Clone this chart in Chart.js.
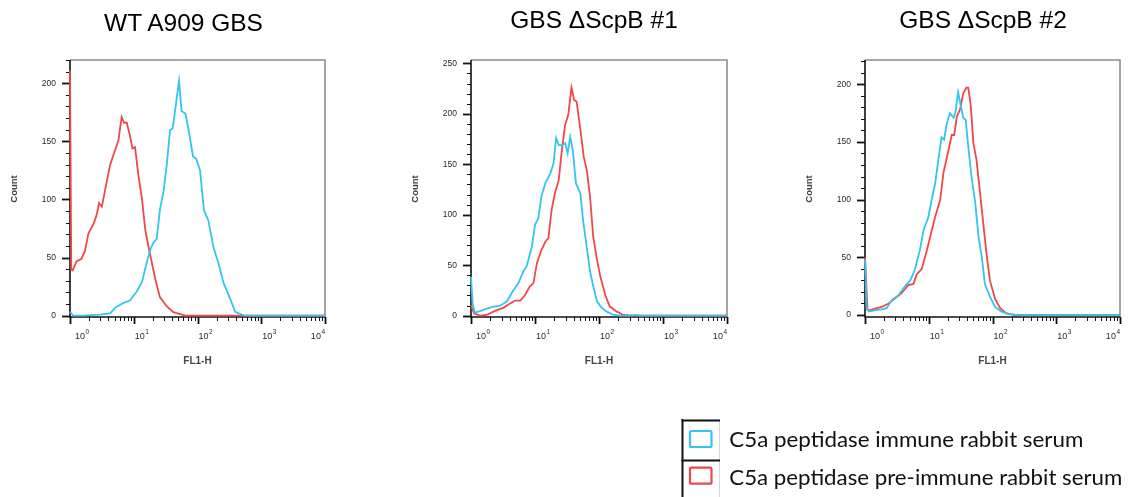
<!DOCTYPE html>
<html><head><meta charset="utf-8">
<script src="https://cdn.jsdelivr.net/npm/chart.js@4.4.0/dist/chart.umd.min.js"></script>
<style>
html,body{margin:0;padding:0;background:#fff;width:1133px;height:497px;overflow:hidden;}
canvas{position:absolute;left:0;top:0;}
svg{position:absolute;left:0;top:0;}
</style></head><body>
<canvas id="c1" width="1133" height="497"></canvas>
<canvas id="c2" width="1133" height="497"></canvas>
<canvas id="c3" width="1133" height="497"></canvas>
<svg id="ov" width="1133" height="497" xmlns="http://www.w3.org/2000/svg"></svg>
<script>
// ---------- data ----------
const panelTitles = ['WT A909 GBS', 'GBS \u0394ScpB #1', 'GBS \u0394ScpB #2'];
const seriesNames = ['C5a peptidase immune rabbit serum', 'C5a peptidase pre-immune rabbit serum'];
const xAxisTitle = 'FL1-H';
const yAxisTitle = 'Count';
const xDecades = [1, 10, 100, 1000, 10000];
const xDecadeExponents = ['0', '1', '2', '3', '4'];
const yLabelsA = [0, 50, 100, 150, 200];
const yLabelsB = [0, 50, 100, 150, 200, 250];

// each point: [log10(FL1-H), count]
const wtImmune = [[0,3.4],[0.05,0],[0.21,0],[0.31,0.6],[0.47,1],[0.63,2],[0.71,7],[0.84,11],[0.94,13],[1.05,21],[1.13,29],[1.2,45],[1.26,57],[1.31,63],[1.36,66],[1.41,91],[1.47,108],[1.52,131],[1.57,160],[1.61,161],[1.65,177],[1.71,202],[1.75,176],[1.81,174],[1.86,160],[1.93,137],[1.98,135],[2.04,125],[2.1,91],[2.17,82],[2.25,59],[2.33,45],[2.41,28],[2.51,15],[2.59,3.4],[2.72,0.3],[2.83,0],[4,0]];
const wtPre = [[0,211],[0.02,40],[0.042,39],[0.105,47],[0.18,49],[0.236,56],[0.29,71],[0.37,79],[0.42,87],[0.455,97],[0.5,94],[0.55,108],[0.63,130],[0.71,143],[0.76,151],[0.81,171],[0.85,166],[0.89,166],[0.94,155],[0.98,144],[1.02,145],[1.07,122],[1.13,100],[1.18,74],[1.24,57],[1.34,31],[1.41,16],[1.52,8],[1.62,3],[1.81,0],[4,0]];
const ko1Immune = [[0,38.6],[0.025,12],[0.06,3],[0.14,4.6],[0.245,7],[0.35,9],[0.45,9.6],[0.56,14],[0.66,25],[0.74,32],[0.82,44],[0.87,49],[0.95,68],[1.0,90],[1.05,96],[1.1,118],[1.16,131],[1.24,141],[1.29,151],[1.33,176],[1.37,169],[1.43,169],[1.47,171],[1.51,161],[1.55,177],[1.59,164],[1.64,131],[1.71,121],[1.75,95],[1.8,72],[1.86,44],[1.91,29],[1.97,14],[2.04,8],[2.12,4],[2.23,0.7],[2.33,0],[2.5,0],[2.57,0.8],[2.65,0],[4,0]];
const ko1Pre = [[0,10.6],[0.047,2.3],[0.14,0],[0.245,0.7],[0.35,4],[0.51,8],[0.61,12],[0.69,15],[0.77,15],[0.84,20],[0.92,29],[0.975,32],[1.03,52],[1.1,65],[1.16,73],[1.21,77],[1.26,105],[1.31,121],[1.37,134],[1.42,164],[1.47,189],[1.52,199],[1.57,226],[1.61,214],[1.65,212],[1.71,184],[1.76,158],[1.81,144],[1.86,118],[1.91,78],[1.97,55],[2.02,39],[2.1,20],[2.17,9],[2.28,4],[2.38,0.7],[2.54,0],[4,0]];
const ko2Immune = [[0,48],[0.025,6],[0.06,3],[0.16,4.3],[0.26,5],[0.34,6],[0.42,13],[0.52,17],[0.63,25],[0.71,30],[0.78,39],[0.86,56],[0.92,74],[0.99,84],[1.05,101],[1.1,114],[1.15,134],[1.2,154],[1.24,152],[1.28,165],[1.33,175],[1.39,171],[1.42,176],[1.46,193],[1.5,182],[1.54,171],[1.58,169],[1.62,146],[1.67,120],[1.73,97],[1.78,68],[1.83,51],[1.88,27],[1.96,16],[2.04,7],[2.14,3],[2.25,1],[2.4,0],[4,0]];
const ko2Pre = [[0,50],[0.04,4.3],[0.08,4.3],[0.16,5.5],[0.26,7],[0.37,10],[0.47,14.5],[0.575,19],[0.68,26],[0.76,27],[0.81,35],[0.89,40],[0.97,56],[1.05,74],[1.1,85],[1.18,100],[1.23,123],[1.31,143],[1.36,156],[1.4,156],[1.44,172],[1.49,178],[1.54,192],[1.59,197],[1.62,197],[1.66,181],[1.7,149],[1.75,134],[1.8,108],[1.86,77],[1.91,51],[1.96,30],[2.04,14],[2.12,6],[2.22,1.4],[2.35,0],[4,0]];

// ---------- style ----------
const CYAN = '#34c4f1';
const RED = '#f0474a';
const W = 1133, H = 497;

const flowAxes = {
  id: 'flowAxes',
  beforeDatasetsDraw(chart, args, o) {
    const ctx = chart.ctx, a = chart.chartArea, x = chart.scales.x, y = chart.scales.y;
    ctx.save();
    // frame
    ctx.lineWidth = 1.6;
    ctx.strokeStyle = '#8e8e8e';
    ctx.beginPath(); ctx.moveTo(a.left, a.top); ctx.lineTo(a.right, a.top); ctx.lineTo(a.right, a.bottom); ctx.stroke();
    ctx.strokeStyle = '#111';
    ctx.beginPath(); ctx.moveTo(a.left, a.top); ctx.lineTo(a.left, a.bottom); ctx.lineTo(a.right, a.bottom); ctx.stroke();
    // y ticks
    for (let v = 0; v <= y.max + 0.01; v += 10) {
      const py = Math.round(y.getPixelForValue(v)) + 0.5;
      const major = v % 50 === 0;
      ctx.lineWidth = major ? 1.8 : 1;
      ctx.beginPath(); ctx.moveTo(a.left - (major ? 8 : 4), py); ctx.lineTo(a.left, py); ctx.stroke();
    }
    ctx.fillStyle = '#2a2a2a';
    ctx.font = '8.5px "Liberation Sans", Arial, sans-serif';
    ctx.textAlign = 'right'; ctx.textBaseline = 'middle';
    o.yLabels.forEach(v => ctx.fillText(String(v), a.left - 14, y.getPixelForValue(v)));
    // x ticks
    ctx.strokeStyle = '#111';
    xDecades.forEach((d, i) => {
      const px = Math.round(x.getPixelForValue(d)) + 0.5;
      ctx.lineWidth = 1.8;
      ctx.beginPath(); ctx.moveTo(px, a.bottom); ctx.lineTo(px, a.bottom + 7); ctx.stroke();
      if (i < xDecades.length - 1) {
        ctx.lineWidth = 1;
        for (let m = 2; m <= 9; m++) {
          const pm = Math.round(x.getPixelForValue(d * m)) + 0.5;
          ctx.beginPath(); ctx.moveTo(pm, a.bottom); ctx.lineTo(pm, a.bottom + 4); ctx.stroke();
        }
      }
    });
    // x labels 10^n
    ctx.textBaseline = 'alphabetic'; ctx.textAlign = 'left';
    const baseFont = '9px "Liberation Sans", Arial, sans-serif';
    const supFont = '6.5px "Liberation Sans", Arial, sans-serif';
    xDecades.forEach((d, i) => {
      const px = x.getPixelForValue(d);
      ctx.font = baseFont; const w1 = ctx.measureText('10').width;
      ctx.font = supFont; const w2 = ctx.measureText(xDecadeExponents[i]).width;
      let sx;
      if (i === 0) sx = px + 5;
      else if (i === xDecades.length - 1) sx = px - (w1 + w2 + 0.5);
      else sx = px + 1;
      ctx.font = baseFont; ctx.fillText('10', sx, a.bottom + 22);
      ctx.font = supFont; ctx.fillText(xDecadeExponents[i], sx + w1 + 0.5, a.bottom + 17);
    });
    // axis titles
    ctx.fillStyle = '#444';
    ctx.font = 'bold 10px "Liberation Sans", Arial, sans-serif';
    ctx.textAlign = 'center'; ctx.textBaseline = 'middle';
    ctx.fillText(xAxisTitle, (a.left + a.right) / 2, 361);
    ctx.save();
    ctx.translate(a.left - 56, 189);
    ctx.rotate(-Math.PI / 2);
    ctx.font = 'bold 9.5px "Liberation Sans", Arial, sans-serif';
    ctx.fillText(yAxisTitle, 0, 0);
    ctx.restore();
    ctx.restore();
  }
};

function toXY(arr) { return arr.map(p => ({ x: Math.pow(10, p[0]), y: p[1] })); }

function makePanel(id, box, yMin, yMax, yLabels, immune, pre) {
  return new Chart(document.getElementById(id), {
    type: 'line',
    data: {
      datasets: [
        { label: seriesNames[0], data: toXY(immune), borderColor: CYAN },
        { label: seriesNames[1], data: toXY(pre), borderColor: RED }
      ]
    },
    options: {
      responsive: false,
      animation: false,
      devicePixelRatio: 1,
      layout: { padding: { left: box[0], top: box[1], right: W - box[2], bottom: H - box[3] } },
      elements: { point: { radius: 0 }, line: { tension: 0, borderWidth: 1.8, fill: false } },
      datasets: { line: { clip: 3 } },
      plugins: { legend: { display: false }, tooltip: { enabled: false }, flowAxes: { yLabels: yLabels } },
      scales: {
        x: { type: 'logarithmic', min: 1, max: 10000, display: false },
        y: { type: 'linear', min: yMin, max: yMax, display: false }
      }
    },
    plugins: [flowAxes]
  });
}

makePanel('c1', [70, 60, 325, 317], -1.1, 220, yLabelsA, wtImmune, wtPre);
makePanel('c2', [471, 60, 727, 317], -1.3, 253.3, yLabelsB, ko1Immune, ko1Pre);
makePanel('c3', [865, 60, 1120, 317], -1.7, 221, yLabelsA, ko2Immune, ko2Pre);

// ---------- titles & legend (SVG text) ----------
const NS = 'http://www.w3.org/2000/svg';
const ov = document.getElementById('ov');
function el(tag, attrs, text) {
  const e = document.createElementNS(NS, tag);
  for (const k in attrs) e.setAttribute(k, attrs[k]);
  if (text !== undefined) e.textContent = text;
  ov.appendChild(e); return e;
}
const titlePos = [[183.5, 30.7], [594, 28.3], [983, 28.3]];
panelTitles.forEach((t, i) => el('text', { x: titlePos[i][0], y: titlePos[i][1], 'text-anchor': 'middle',
  'font-family': 'Liberation Sans, Arial, sans-serif', 'font-size': 24.5, fill: '#000' }, t));

// legend frame
el('line', { x1: 719.5, y1: 420, x2: 719.5, y2: 497, stroke: '#d8d8d8', 'stroke-width': 1 });
el('line', { x1: 682.5, y1: 419, x2: 682.5, y2: 497, stroke: '#111', 'stroke-width': 2 });
el('line', { x1: 681.5, y1: 420.5, x2: 720, y2: 420.5, stroke: '#111', 'stroke-width': 2 });
el('line', { x1: 681.5, y1: 460.5, x2: 720, y2: 460.5, stroke: '#111', 'stroke-width': 2 });
el('rect', { x: 690, y: 431, width: 21.5, height: 16, fill: 'none', stroke: CYAN, 'stroke-width': 2.2, rx: 1.5 });
el('rect', { x: 690, y: 467.7, width: 21.5, height: 16, fill: 'none', stroke: RED, 'stroke-width': 2.2, rx: 1.5 });
const legW = [354, 393];
const legY = [447.3, 485];
seriesNames.forEach((t, i) => el('text', { x: 729.3, y: legY[i], 'font-family': 'Lato, "Open Sans", sans-serif',
  'font-size': 20.5, fill: '#111', textLength: legW[i], lengthAdjust: 'spacingAndGlyphs' }, t));
</script>
</body></html>
